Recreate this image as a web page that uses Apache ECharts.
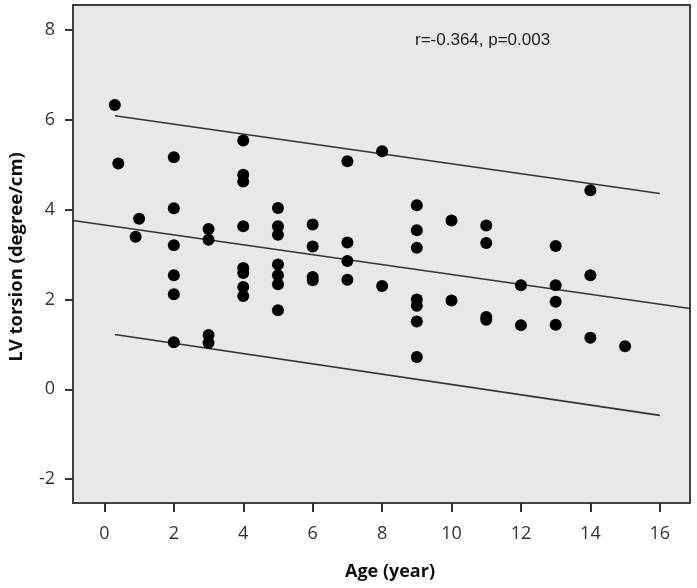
<!DOCTYPE html>
<html>
<head>
<meta charset="utf-8">
<script src="https://cdn.jsdelivr.net/npm/echarts@6/dist/echarts.min.js"></script>
<style>html,body{margin:0;padding:0;background:#fff;}#c{width:697px;height:588px;}</style>
</head>
<body>
<div id="c"></div>
<script>
var ages = [0.3, 0.4, 0.9, 1.0,
  2, 2, 2, 2, 2, 2,
  3, 3, 3, 3,
  4, 4, 4, 4, 4, 4, 4, 4,
  5, 5, 5, 5, 5, 5, 5,
  6, 6, 6, 6,
  7, 7, 7, 7,
  8, 8,
  9, 9, 9, 9, 9, 9, 9,
  10, 10,
  11, 11, 11, 11,
  12, 12,
  13, 13, 13, 13,
  14, 14, 14,
  15];
var torsion = [6.33, 5.03, 3.40, 3.80,
  5.17, 4.03, 3.21, 2.54, 2.12, 1.05,
  3.57, 3.33, 1.21, 1.04,
  5.54, 4.78, 4.63, 3.63, 2.70, 2.59, 2.28, 2.08,
  4.04, 3.63, 3.44, 2.78, 2.54, 2.34, 1.76,
  3.67, 3.18, 2.50, 2.43,
  5.08, 3.27, 2.86, 2.44,
  5.30, 2.30,
  4.10, 3.54, 3.15, 2.00, 1.86, 1.51, 0.72,
  3.76, 1.98,
  3.65, 3.26, 1.61, 1.55,
  2.32, 1.43,
  3.19, 2.32, 1.95, 1.44,
  4.43, 2.54, 1.15,
  0.96];
var fitX = [-0.905, 16.87];
var fitY = [3.76, 1.80];
var upperX = [0.3, 16];
var upperY = [6.09, 4.36];
var lowerX = [0.3, 16];
var lowerY = [1.22, -0.58];
var xTicks = [0, 2, 4, 6, 8, 10, 12, 14, 16];
var yTicks = [-2, 0, 2, 4, 6, 8];
var xTitle = 'Age (year)';
var yTitle = 'LV torsion (degree/cm)';
var note = 'r=-0.364, p=0.003';

function pairs(xs, ys){ return xs.map(function(x,i){ return [x, ys[i]]; }); }

var chart = echarts.init(document.getElementById('c'), null, {renderer:'canvas'});
var lineStyle = {color:'#333', width:1.6};
var axisCommon = {
  axisLine:{show:true, onZero:false, lineStyle:{color:'#404040', width:2}},
  splitLine:{show:false},
  axisTick:{show:true, length:8, lineStyle:{color:'#333', width:2}},
  axisLabel:{color:'#333', fontFamily:'Open Sans', fontSize:18}
};
chart.setOption({
  animation:false,
  grid:{left:73, right:7, top:5, bottom:85, show:true, backgroundColor:'#e8e8e8', borderColor:'#404040', borderWidth:2},
  xAxis: echarts.util.merge({
    type:'value', min:-0.905, max:16.87,
    axisTick:{customValues:xTicks, length:9},
    axisLabel:{customValues:xTicks, margin:22}
  }, axisCommon),
  yAxis: echarts.util.merge({
    type:'value', min:-2.53, max:8.557,
    axisTick:{customValues:yTicks},
    axisLabel:{customValues:yTicks, margin:18}
  }, axisCommon),
  series:[
    {type:'line', data:pairs(fitX, fitY), symbol:'none', lineStyle:lineStyle, silent:true, z:3},
    {type:'line', data:pairs(upperX, upperY), symbol:'none', lineStyle:lineStyle, silent:true, z:3},
    {type:'line', data:pairs(lowerX, lowerY), symbol:'none', lineStyle:lineStyle, silent:true, z:3},
    {type:'scatter', data:pairs(ages, torsion), symbol:'circle', symbolSize:12, itemStyle:{color:'#000', opacity:1}, z:4}
  ],
  graphic:[
    {type:'text', left:415, top:32, style:{text:note, font:'17px "Liberation Sans"', fill:'#222'}},
    {type:'text', x:390, y:572, style:{text:xTitle, font:'bold 18px "Open Sans"', fill:'#111', align:'center', verticalAlign:'middle'}},
    {type:'text', x:17, y:257, rotation:Math.PI/2, style:{text:yTitle, font:'bold 18.5px "Open Sans"', fill:'#111', align:'center', verticalAlign:'middle'}}
  ]
});
</script>
</body>
</html>
